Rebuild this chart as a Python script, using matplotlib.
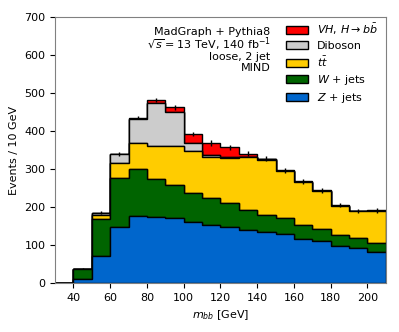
import numpy as np
import matplotlib
matplotlib.use('Agg')
import matplotlib.pyplot as plt
from matplotlib.patches import Patch

# Binning (10 GeV bins)
bin_edges = np.arange(30, 220, 10)
bin_centres = 0.5*(bin_edges[:-1] + bin_edges[1:])

# Events per bin
z_jets  = [0, 10, 72, 147, 178, 175, 171, 160, 154, 148, 139, 134, 129, 117, 110, 98, 92, 82]
w_jets  = [0, 28, 97, 131, 122, 100, 87, 77, 71, 62, 54, 46, 42, 36, 32, 29, 26, 24]
ttbar   = [0, 0, 11, 38, 68, 85, 103, 111, 107, 119, 139, 145, 125, 114, 101, 77, 71, 85]
diboson = [0, 0, 5, 23, 64, 115, 89, 22, 5, 2, 1, 1, 0, 0, 0, 0, 0, 0]
vh_bb   = [0, 0, 1, 1, 4, 7, 13, 23, 32, 27, 8, 2, 1, 1, 1, 1, 1, 1]
stat_err = [0, 1, 3, 5, 5, 6, 6, 6, 7, 7, 6, 6, 6, 6, 6, 5, 5, 6]

samples = [z_jets, w_jets, ttbar, diboson, vh_bb]
labels = [r'$Z$ + jets', r'$W$ + jets', r'$t\bar{t}$', 'Diboson', r'$VH$, $H\rightarrow b\bar{b}$']
colours = ['#0066CC', '#006400', '#FFCC00', '#CCCCCC', '#FF0000']

plt.rc('font', size=8)
fig = plt.figure(figsize=(3.99, 3.32), dpi=100)
ax = fig.add_axes([0.138, 0.147, 0.829, 0.801])

ax.hist([bin_centres]*len(samples), bins=bin_edges, weights=samples, stacked=True,
        histtype='stepfilled', color=colours, edgecolor='black', linewidth=1)

total = np.sum(samples, axis=0)
ax.errorbar(bin_centres, total, yerr=stat_err, fmt='none', ecolor='black', elinewidth=1)

ax.set_xlim(30, 210)
ax.set_ylim(0, 700)
ax.set_xticks(np.arange(40, 201, 20))
ax.set_xlabel(r'$m_{bb}$ [GeV]')
ax.set_ylabel('Events / 10 GeV')
for s in ax.spines.values():
    s.set_color('0.5')

handles = [Patch(facecolor=c, edgecolor='black', label=l) for c, l in zip(colours, labels)]
ax.legend(handles=handles[::-1], loc='upper right', frameon=False, fontsize=8,
          handlelength=2.0, labelspacing=0.36, bbox_to_anchor=(1.005, 1.022))

# annotation block, right-aligned
info_lines = ['MadGraph + Pythia8', r'$\sqrt{s}=13$ TeV, 140 fb$^{-1}$', 'loose, 2 jet', 'MIND']
info_y = [0.946, 0.90, 0.852, 0.808]
for txt, yy in zip(info_lines, info_y):
    ax.text(0.652, yy, txt, transform=ax.transAxes, ha='right', va='center')

fig.savefig('out.png', dpi=100)
